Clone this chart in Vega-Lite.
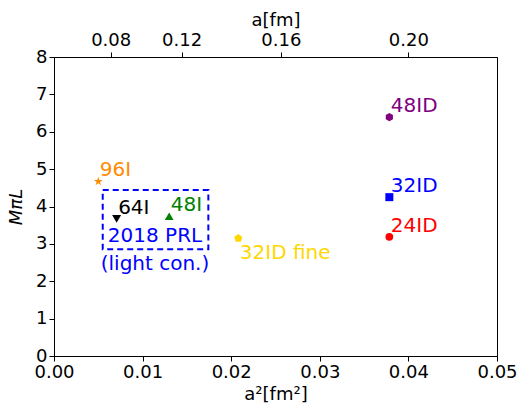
{
  "$schema": "https://vega.github.io/schema/vega-lite/v6.json",
  "width": 443,
  "height": 299,
  "autosize": {"type": "none"},
  "padding": {"left": 54, "top": 57, "right": 24, "bottom": 54},
  "config": {
    "view": {"stroke": "black", "strokeWidth": 1},
    "font": "DejaVu Sans",
    "axis": {
      "grid": false,
      "domainColor": "black",
      "domainWidth": 1,
      "tickColor": "black",
      "tickSize": 5,
      "labelFont": "DejaVu Sans",
      "labelFontSize": 18,
      "labelColor": "black",
      "labelFlush": false,
      "labelOverlap": false,
      "titleFont": "DejaVu Sans",
      "titleFontSize": 18,
      "titleFontWeight": "normal",
      "titleColor": "black",
      "labelPadding": 2
    }
  },
  "datasets": {
    "pts": [
      {"label": "96I", "a2": 0.005, "mpl": 4.67},
      {"label": "64I", "a2": 0.00707, "mpl": 3.67},
      {"label": "48I", "a2": 0.0130, "mpl": 3.74},
      {"label": "32ID fine", "a2": 0.0208, "mpl": 3.15},
      {"label": "48ID", "a2": 0.03785, "mpl": 6.39},
      {"label": "32ID", "a2": 0.03785, "mpl": 4.25},
      {"label": "24ID", "a2": 0.03785, "mpl": 3.19}
    ],
    "box": [
      {"x1": 0.0055, "x2": 0.01742, "y1": 2.855, "y2": 4.44, "text": "2018 PRL\n(light con.)", "tx": 0.0114, "ty": 3.04}
    ]
  },
  "resolve": {"axis": {"x": "independent", "y": "independent"}},
  "layer": [
    {
      "data": {"name": "box"},
      "mark": {"type": "rect", "fill": null, "fillOpacity": 0, "stroke": "#0000ff", "strokeWidth": 2, "strokeDash": [6, 4]},
      "encoding": {
        "x": {"field": "x1", "type": "quantitative",
              "scale": {"domain": [0, 0.05], "nice": false, "zero": false},
              "axis": {"orient": "bottom", "values": [0, 0.01, 0.02, 0.03, 0.04, 0.05], "format": ".2f", "title": "a²[fm²]", "titlePadding": 4}},
        "x2": {"field": "x2"},
        "y": {"field": "y1", "type": "quantitative",
              "scale": {"domain": [0, 8], "nice": false, "zero": false},
              "axis": {"orient": "left", "values": [0, 1, 2, 3, 4, 5, 6, 7, 8], "format": "d", "labelOverlap": false, "title": "MπL", "titleFontStyle": "italic", "titlePadding": 10}},
        "y2": {"field": "y2"}
      }
    },
    {
      "data": {"name": "box"},
      "mark": {"type": "text", "align": "center", "baseline": "alphabetic", "fontSize": 20, "color": "#0000ff", "lineBreak": "\n", "lineHeight": 28},
      "encoding": {
        "x": {"field": "tx", "type": "quantitative", "scale": {"domain": [0, 0.05], "nice": false, "zero": false}, "axis": null},
        "y": {"field": "ty", "type": "quantitative", "scale": {"domain": [0, 8], "nice": false, "zero": false}, "axis": null},
        "text": {"field": "text"}
      }
    },
    {
      "data": {"name": "pts"},
      "mark": {"type": "point", "filled": true, "opacity": 1},
      "encoding": {
        "x": {"field": "a2", "type": "quantitative", "scale": {"domain": [0, 0.05], "nice": false, "zero": false}, "axis": null},
        "y": {"field": "mpl", "type": "quantitative", "scale": {"domain": [0, 8], "nice": false, "zero": false}, "axis": null},
        "color": {"field": "label", "type": "nominal", "legend": null,
                  "scale": {"domain": ["96I", "64I", "48I", "32ID fine", "48ID", "32ID", "24ID"],
                            "range": ["#ff8c00", "#000000", "#008000", "#ffd700", "#800080", "#0000ff", "#ff0000"]}},
        "size": {"field": "label", "type": "nominal", "legend": null,
                 "scale": {"domain": ["96I", "64I", "48I", "32ID fine", "48ID", "32ID", "24ID"],
                           "range": [85, 60, 60, 60, 60, 55, 64]}},
        "shape": {"field": "label", "type": "nominal", "legend": null,
                  "scale": {"domain": ["96I", "64I", "48I", "32ID fine", "48ID", "32ID", "24ID"],
                            "range": [
                              "M0,-1L0.2245,-0.309L0.951,-0.309L0.363,0.118L0.588,0.809L0,0.382L-0.588,0.809L-0.363,0.118L-0.951,-0.309L-0.2245,-0.309Z",
                              "triangle-down",
                              "triangle-up",
                              "M0,-1L0.951,-0.309L0.588,0.809L-0.588,0.809L-0.951,-0.309Z",
                              "M0,-1L0.866,-0.5L0.866,0.5L0,1L-0.866,0.5L-0.866,-0.5Z",
                              "square",
                              "circle"
                            ]}}
      }
    },
    {
      "data": {"name": "pts"},
      "transform": [{"filter": "datum.label !== '32ID fine'"}],
      "mark": {"type": "text", "align": "left", "baseline": "alphabetic", "dx": 1.5, "dy": -5, "fontSize": 20},
      "encoding": {
        "x": {"field": "a2", "type": "quantitative", "scale": {"domain": [0, 0.05], "nice": false, "zero": false},
              "axis": {"orient": "top", "values": [0.0064, 0.0144, 0.0256, 0.04], "labelExpr": "format(sqrt(datum.value), '.2f')", "title": "a[fm]", "titlePadding": 2, "labelPadding": 3}},
        "y": {"field": "mpl", "type": "quantitative", "scale": {"domain": [0, 8], "nice": false, "zero": false}, "axis": null},
        "text": {"field": "label"},
        "color": {"field": "label", "type": "nominal", "legend": null}
      }
    },
    {
      "data": {"name": "pts"},
      "transform": [{"filter": "datum.label === '32ID fine'"}],
      "mark": {"type": "text", "align": "left", "baseline": "top", "dx": 1.5, "dy": 5, "fontSize": 20},
      "encoding": {
        "x": {"field": "a2", "type": "quantitative", "scale": {"domain": [0, 0.05], "nice": false, "zero": false}, "axis": null},
        "y": {"field": "mpl", "type": "quantitative", "scale": {"domain": [0, 8], "nice": false, "zero": false}, "axis": null},
        "text": {"field": "label"},
        "color": {"field": "label", "type": "nominal", "legend": null}
      }
    }
  ]
}
